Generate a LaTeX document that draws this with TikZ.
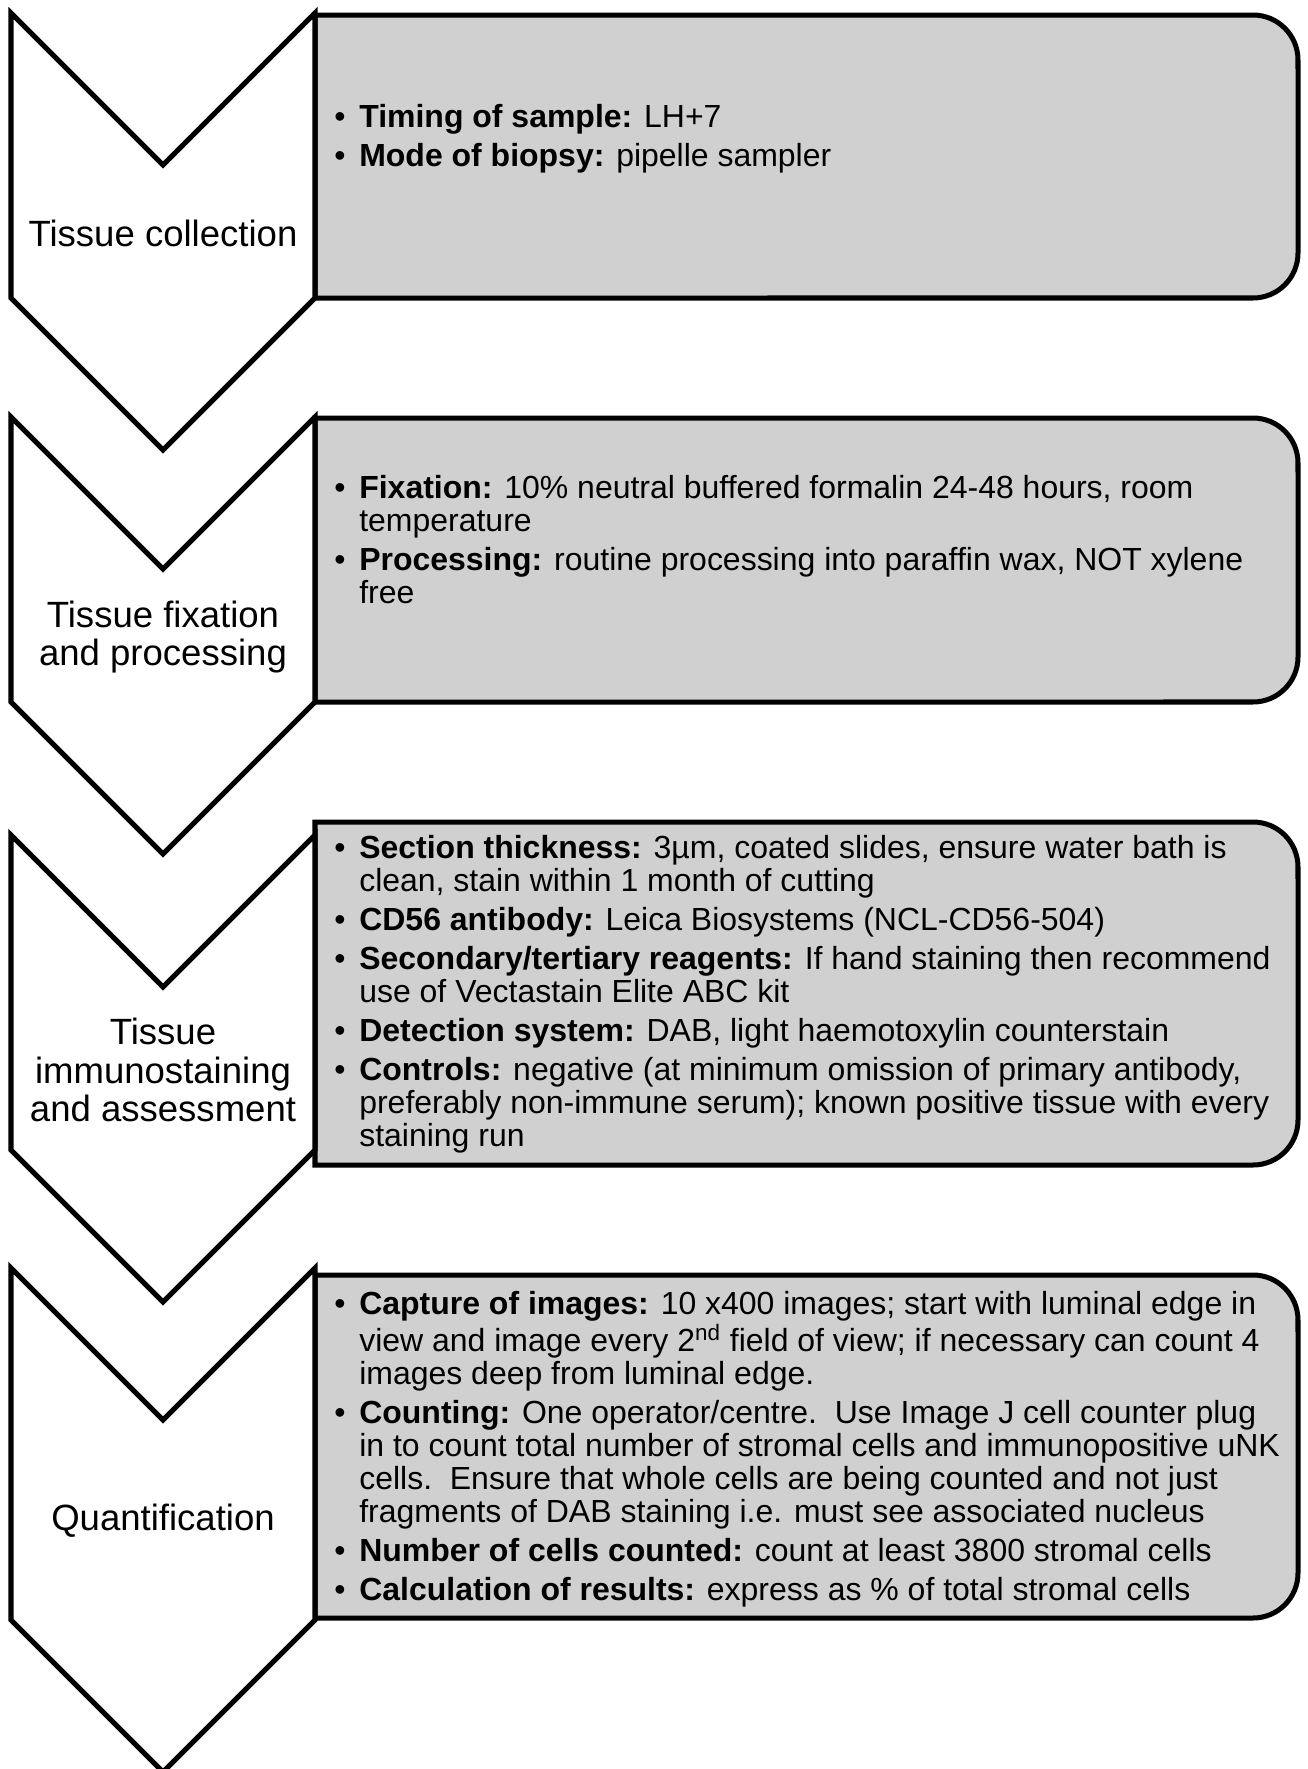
\documentclass[tikz,border=0pt]{standalone}
\usepackage{fontspec}
\setmainfont{Liberation Sans}

\definecolor{boxgray}{RGB}{208,208,208}

\tikzset{
    chevron/.style={draw=black, fill=white, line width=2.85pt, line join=miter},
    infobox/.style={draw=black, fill=boxgray, line width=2.85pt},
    steplabel/.style={align=center, inner sep=0pt, font=\fontsize{20.8}{21.9}\selectfont},
    infotext/.style={anchor=base west, inner sep=0pt, font=\fontsize{18.2}{18.8}\selectfont}
}
\newcommand{\itm}{\makebox[14.2pt][l]{\textbullet}}

\begin{document}
\begin{tikzpicture}[x=0.02cm, y=-0.02cm]
    % 1. Define Geometric Parameters (one unit = one pixel of the figure)
    \def\xl{11}    % left side of the chevrons
    \def\xm{163}   % centre line of the chevrons
    \def\xr{315}   % right side of the chevrons = left side of the boxes
    \def\xe{1298}  % right side of the boxes
    \def\dip{152}  % depth of notch and tip
    \def\rad{0.9cm}
    \useasboundingbox (0,0) rectangle (1308,1769);

    % 2. Grey boxes, rounded on the right only
    \draw[infobox] (\xr,15) -- (\xe-45,15) arc (90:0:\rad) -- (\xe,253) arc (0:-90:\rad) -- (\xr,298) -- cycle;
    \draw[infobox] (\xr,418) -- (\xe-45,418) arc (90:0:\rad) -- (\xe,657) arc (0:-90:\rad) -- (\xr,702) -- cycle;
    \draw[infobox] (\xr,822) -- (\xe-45,822) arc (90:0:\rad) -- (\xe,1120) arc (0:-90:\rad) -- (\xr,1165) -- cycle;
    \draw[infobox] (\xr,1275) -- (\xe-45,1275) arc (90:0:\rad) -- (\xe,1573) arc (0:-90:\rad) -- (\xr,1618) -- cycle;

    % 3. Chevrons pointing down
    \draw[chevron] (\xl,13) -- (\xm,13+\dip) -- (\xr,13) -- (\xr,298) -- (\xm,298+\dip) -- (\xl,298) -- cycle;
    \draw[chevron] (\xl,417) -- (\xm,417+\dip) -- (\xr,417) -- (\xr,702) -- (\xm,702+\dip) -- (\xl,702) -- cycle;
    \draw[chevron] (\xl,835) -- (\xm,835+\dip) -- (\xr,835) -- (\xr,1150) -- (\xm,1150+\dip) -- (\xl,1150) -- cycle;
    \draw[chevron] (\xl,1268) -- (\xm,1268+\dip) -- (\xr,1268) -- (\xr,1620) -- (\xm,1620+\dip) -- (\xl,1620) -- cycle;

    % 4. Step labels
    \node[steplabel] (collect) at (\xm,233) {Tissue collection};
    \node[steplabel] (fixate) at (\xm,637) {Tissue fixation\\and processing};
    \node[steplabel] (stain) at (\xm,1070) {Tissue\\immunostaining\\and assessment};
    \node[steplabel] (quant) at (\xm,1521) {Quantification};

    % 5. Box texts
    \node[infotext] (collectinfo) at (334,127) {\begin{tabular}[t]{@{}l@{}l@{}}
        \itm & \textbf{Timing of sample:} LH+7\\[3.4pt]
        \itm & \textbf{Mode of biopsy:} pipelle sampler
    \end{tabular}};
    \node[infotext] (fixateinfo) at (334,498) {\begin{tabular}[t]{@{}l@{}l@{}}
        \itm & \textbf{Fixation:} 10\% neutral buffered formalin 24-48 hours, room\\
             & temperature\\[3.4pt]
        \itm & \textbf{Processing:} routine processing into paraffin wax, NOT xylene\\
             & free
    \end{tabular}};
    \node[infotext] (staininfo) at (334,858) {\begin{tabular}[t]{@{}l@{}l@{}}
        \itm & \textbf{Section thickness:} 3µm, coated slides, ensure water bath is\\
             & clean, stain within 1 month of cutting\\[3.4pt]
        \itm & \textbf{CD56 antibody:} Leica Biosystems (NCL-CD56-504)\\[3.4pt]
        \itm & \textbf{Secondary/tertiary reagents:} If hand staining then recommend\\
             & use of Vectastain Elite ABC kit\\[3.4pt]
        \itm & \textbf{Detection system:} DAB, light haemotoxylin counterstain\\[3.4pt]
        \itm & \textbf{Controls:} negative (at minimum omission of primary antibody,\\
             & preferably non-immune serum); known positive tissue with every\\
             & staining run
    \end{tabular}};
    \node[infotext] (quantinfo) at (334,1314) {\begin{tabular}[t]{@{}l@{}l@{}}
        \itm & \textbf{Capture of images:} 10 x400 images; start with luminal edge in\\
             & view and image every 2\textsuperscript{nd} field of view; if necessary can count 4\\
             & images deep from luminal edge.\\[3.4pt]
        \itm & \textbf{Counting:} One operator/centre.\ \ Use Image J cell counter plug\\
             & in to count total number of stromal cells and immunopositive uNK\\
             & cells.\ \ Ensure that whole cells are being counted and not just\\
             & fragments of DAB staining i.e. must see associated nucleus\\[3.4pt]
        \itm & \textbf{Number of cells counted:} count at least 3800 stromal cells\\[3.4pt]
        \itm & \textbf{Calculation of results:} express as \% of total stromal cells
    \end{tabular}};

\end{tikzpicture}
\end{document}
